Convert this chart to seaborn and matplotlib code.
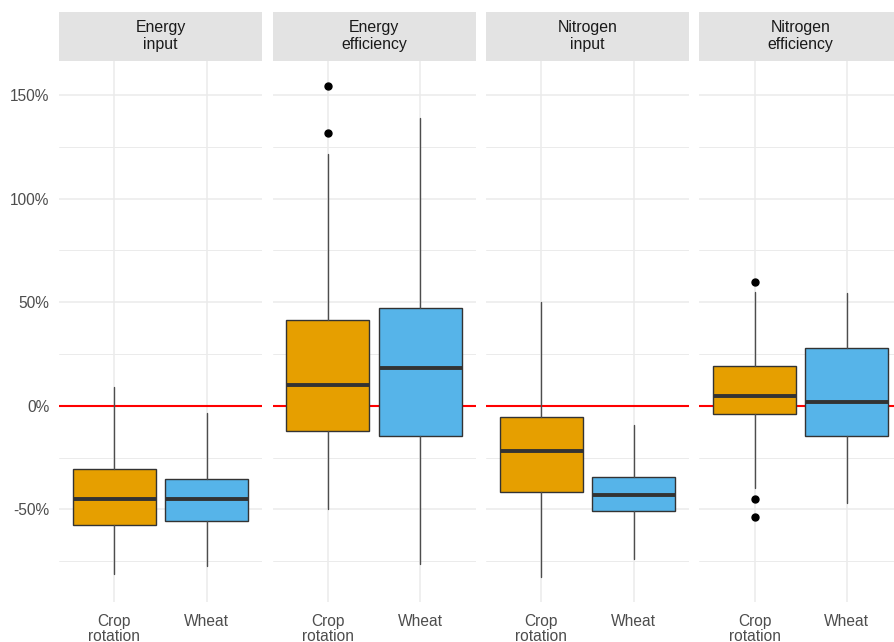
import matplotlib
matplotlib.use("Agg")
import matplotlib.pyplot as plt
from matplotlib.ticker import FuncFormatter, MultipleLocator
import seaborn as sns

# Relative change (%) of each indicator, crop rotation vs. wheat monoculture
panels = ["Energy\ninput", "Energy\nefficiency", "Nitrogen\ninput", "Nitrogen\nefficiency"]
systems = ["Crop\nrotation", "Wheat"]
colors = ["#E69F00", "#56B4E9"]

# Five-number summaries per panel: [crop rotation, wheat]
whisker_low = [[-81.3, -77.2], [-49.9, -76.3], [-82.8, -73.8], [-39.9, -46.8]]
quartile_1 = [[-57.6, -55.8], [-12.0, -14.5], [-41.5, -50.7], [-4.1, -14.8]]
medians = [[-44.9, -44.9], [10.2, 18.1], [-21.6, -43.3], [4.6, 1.7]]
quartile_3 = [[-30.7, -35.1], [41.3, 47.1], [-5.2, -34.3], [19.4, 27.8]]
whisker_high = [[9.1, -3.5], [121.6, 139.1], [50.0, -9.5], [54.8, 54.2]]
outliers = [[[], []], [[154.5, 131.6], []], [[], []], [[59.5, -45.0, -53.6], []]]

sns.set_theme(style="whitegrid")
plt.rcParams["font.family"] = ["Liberation Sans", "DejaVu Sans"]

W, H = 894, 642
fig = plt.figure(figsize=(W / 100, H / 100), dpi=100)
fig.patch.set_facecolor("white")

panel_left = [59, 272.5, 486, 699.3]
panel_w = 203
panel_top, panel_bottom = 61, 602
strip_h = 49.5

pct = FuncFormatter(lambda v, _: f"{v:.0f}%")

for i, title in enumerate(panels):
    ax = fig.add_axes([panel_left[i] / W, (H - panel_bottom) / H,
                       panel_w / W, (panel_bottom - panel_top) / H])
    ax.set_facecolor("white")

    stats = []
    for j in range(2):
        stats.append(dict(
            whislo=whisker_low[i][j], q1=quartile_1[i][j], med=medians[i][j],
            q3=quartile_3[i][j], whishi=whisker_high[i][j],
            fliers=outliers[i][j], label=systems[j],
        ))
    bp = ax.bxp(stats, positions=[1, 2], widths=0.9, patch_artist=True,
                showcaps=False, showfliers=True,
                boxprops=dict(edgecolor="#333333", linewidth=1.0),
                medianprops=dict(color="#333333", linewidth=2.8, solid_capstyle="butt"),
                whiskerprops=dict(color="#4D4D4D", linewidth=1.0),
                flierprops=dict(marker="o", markersize=5, markerfacecolor="black",
                                markeredgecolor="black", linestyle="none"),
                zorder=3)
    for patch, c in zip(bp["boxes"], colors):
        patch.set_facecolor(c)

    ax.axhline(0, color="red", linewidth=1.5, zorder=2)

    ax.set_xlim(0.4, 2.6)
    ax.set_ylim(-94.7, 166.4)
    ax.yaxis.set_major_locator(MultipleLocator(50))
    ax.yaxis.set_minor_locator(MultipleLocator(25))
    ax.yaxis.set_major_formatter(pct)
    ax.set_xticks([1, 2])
    ax.set_xticklabels(systems, linespacing=1.0)

    ax.grid(True, which="major", axis="both", color="#EBEBEB", linewidth=1.1, zorder=0)
    ax.grid(True, which="minor", axis="y", color="#EBEBEB", linewidth=0.7, zorder=0)
    ax.set_axisbelow(True)
    for s in ax.spines.values():
        s.set_visible(False)

    ax.tick_params(axis="both", which="both", length=0, labelsize=11.2,
                   labelcolor="#4D4D4D")
    ax.tick_params(axis="x", pad=8.5)
    ax.tick_params(axis="y", pad=7)
    if i > 0:
        ax.tick_params(axis="y", labelleft=False)

    # facet strip
    sh = strip_h / (panel_bottom - panel_top)
    ax.add_patch(plt.Rectangle((0, 1), 1, sh, transform=ax.transAxes,
                               facecolor="#E3E3E3", edgecolor="none", clip_on=False))
    ax.text(0.5, 1 + sh / 2, title, transform=ax.transAxes, ha="center", va="center",
            fontsize=11.4, color="#1A1A1A", linespacing=1.2)

fig.savefig("out.png", dpi=100, facecolor="white")
